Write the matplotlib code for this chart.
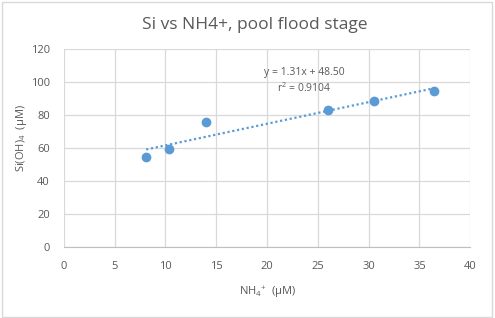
import matplotlib
matplotlib.use("Agg")
import matplotlib.pyplot as plt
import numpy as np

plt.rcParams['font.family'] = ['Open Sans', 'DejaVu Sans']
plt.rcParams['mathtext.fontset'] = 'custom'
plt.rcParams['mathtext.rm'] = 'Open Sans'
plt.rcParams['mathtext.it'] = 'Open Sans'
plt.rcParams['mathtext.default'] = 'rm'

nh4 = [8.1, 10.3, 14.0, 26.0, 30.5, 36.4]
si = [54.5, 59.5, 76.0, 83.0, 88.5, 94.5]
slope, intercept = 1.31, 48.50
eq_text = "y = 1.31x + 48.50"
r2_text = "r$^2$ = 0.9104"
title = "Si vs NH4+, pool flood stage"
xticks = [0, 5, 10, 15, 20, 25, 30, 35, 40]
yticks = [0, 20, 40, 60, 80, 100, 120]

txt = '#595959'
grid = '#d9d9d9'
blue = '#5b9bd5'

fig = plt.figure(figsize=(4.95, 3.18), dpi=100)
fig.patch.set_facecolor('white')
fig.add_artist(plt.Rectangle((0.004, 0.004), 0.99, 0.99, transform=fig.transFigure,
                             fill=False, edgecolor='#d9d9d9', linewidth=1))
ax = fig.add_axes([0.129, 0.223, 0.821, 0.623])
ax.set_xlim(0, 40)
ax.set_ylim(0, 120)
ax.set_xticks(xticks)
ax.set_yticks(yticks)
ax.grid(True, color=grid, linewidth=0.9)
ax.set_axisbelow(True)
for s in ['top', 'right', 'left']:
    ax.spines[s].set_visible(False)
ax.spines['bottom'].set_color('#bfbfbf')
ax.tick_params(length=0, labelsize=8, labelcolor=txt)
ax.tick_params(axis='x', pad=10)
ax.tick_params(axis='y', pad=10)

xs = np.array([min(nh4), max(nh4)])
ax.plot(xs, slope * xs + intercept, linestyle=(0, (1, 1.2)), color=blue, linewidth=1.6)
ax.scatter(nh4, si, s=36, color=blue, zorder=3)

ax.text(23.7, 105.5, eq_text, ha='center', va='center', fontsize=7.5, color=txt)
ax.text(23.7, 96.2, r2_text, ha='center', va='center', fontsize=7.5, color=txt)

fig.suptitle(title, x=0.515, y=0.945, fontsize=12.5, color=txt)
ax.set_xlabel("NH$_4$$^{+}$  (µM)", fontsize=8, color=txt, labelpad=9)
ax.set_ylabel("Si(OH)$_4$  (µM)", fontsize=8, color=txt, labelpad=1)
ax.yaxis.set_label_coords(-0.085, 0.55)

fig.savefig("out.png", dpi=100)
